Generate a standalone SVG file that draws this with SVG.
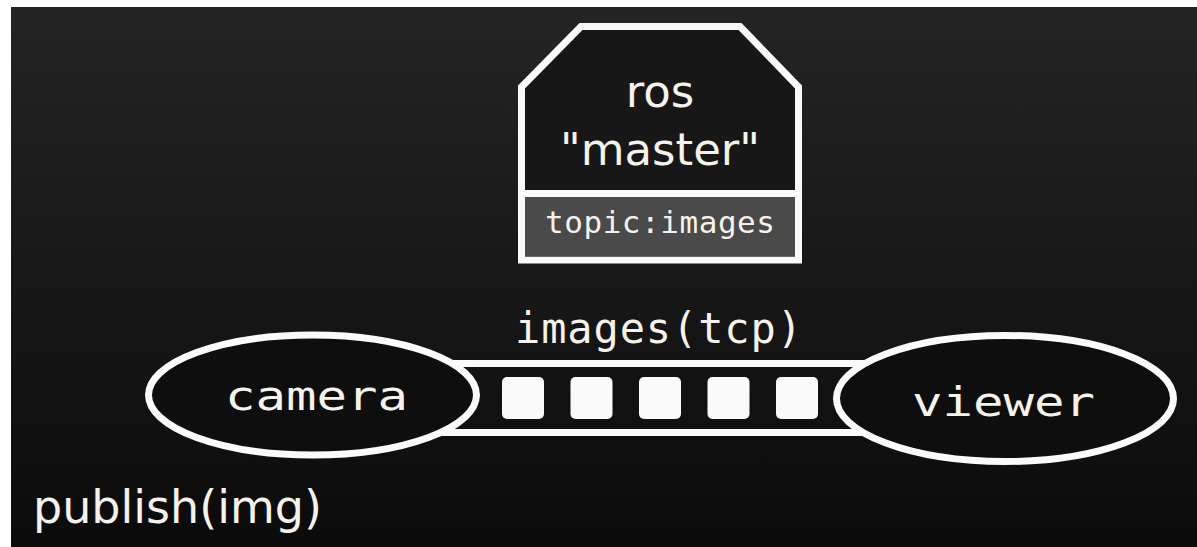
<svg xmlns="http://www.w3.org/2000/svg" width="1197" height="547" viewBox="0 0 1197 547">
<defs>
<linearGradient id="bg" x1="0" y1="0" x2="0" y2="1">
<stop offset="0" stop-color="#242424"/>
<stop offset="1" stop-color="#0b0b0b"/>
</linearGradient>
<style>
.ln{fill:none;stroke:#fafafa;stroke-width:7}
.sans{font-family:"DejaVu Sans","Noto Sans",sans-serif;fill:#f4f2ea}
.mono{font-family:"DejaVu Sans Mono","Liberation Mono",monospace;fill:#f4f2ea}
.pkt{fill:#fafafa}
</style>
</defs>
<rect x="0" y="0" width="1197" height="547" fill="#ffffff"/>
<rect x="11" y="7" width="1186" height="540" fill="url(#bg)"/>

<g id="master">
<polygon class="ln" points="521.5,87 581,26.5 740,26.5 798.5,87 798.5,260 521.5,260" style="fill:#171717"/>
<rect x="525" y="197" width="270" height="59.5" fill="#4a4a4a"/>
<line class="ln" x1="521.5" y1="193.5" x2="798.5" y2="193.5"/>
<text class="sans" x="660" y="107" font-size="45" text-anchor="middle">ros</text>
<text class="sans" x="660" y="165" font-size="45" text-anchor="middle">"master"</text>
<text class="mono" x="545" y="233" font-size="31" textLength="230" lengthAdjust="spacing">topic:images</text>
</g>

<g id="connectors">
<g id="topic-tube">
<line class="ln" x1="420" y1="363.5" x2="900" y2="363.5"/>
<line class="ln" x1="420" y1="432.5" x2="900" y2="432.5"/>
<rect class="pkt" x="502" y="377" width="42" height="42" rx="5"/>
<rect class="pkt" x="570.5" y="377" width="42" height="42" rx="5"/>
<rect class="pkt" x="639" y="377" width="42" height="42" rx="5"/>
<rect class="pkt" x="707.5" y="377" width="42" height="42" rx="5"/>
<rect class="pkt" x="776" y="377" width="42" height="42" rx="5"/>
</g>
<text class="mono" x="515" y="343" font-size="42" textLength="287" lengthAdjust="spacing">images(tcp)</text>
</g>

<g id="camera">
<ellipse class="ln" cx="312.5" cy="395" rx="164" ry="60" style="fill:#0e0e0e"/>
<text class="mono" x="225" y="410" font-size="41" textLength="183" lengthAdjust="spacingAndGlyphs">camera</text>
</g>

<g id="viewer">
<ellipse class="ln" cx="1005" cy="398.5" rx="168.5" ry="63" style="fill:#0e0e0e"/>
<text class="mono" x="912" y="416" font-size="41" textLength="183" lengthAdjust="spacingAndGlyphs">viewer</text>
</g>

<g id="publish-label">
<text class="sans" x="33" y="523" font-size="46">publish(img)</text>
</g>
</svg>
